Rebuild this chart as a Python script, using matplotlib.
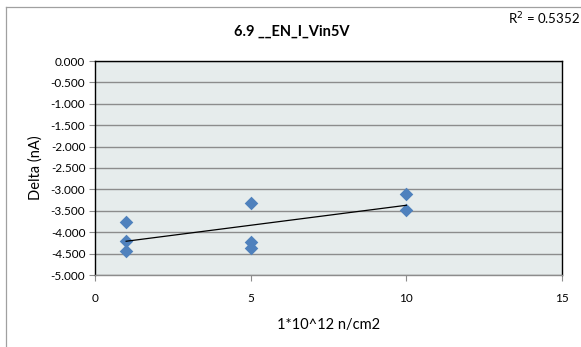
import matplotlib
matplotlib.use("Agg")
import matplotlib.pyplot as plt
import numpy as np
from matplotlib.lines import Line2D

plt.rcParams['font.family'] = ['Lato', 'DejaVu Sans']

x_vals = [1, 1, 1, 5, 5, 5, 10, 10]
y_vals = [-3.76, -4.21, -4.45, -3.31, -4.22, -4.37, -3.10, -3.47]
title = "6.9 __EN_I_Vin5V"
r2_text = "R$^2$ = 0.5352"
x_ticks = [0, 5, 10, 15]
y_ticks = [0.0, -0.5, -1.0, -1.5, -2.0, -2.5, -3.0, -3.5, -4.0, -4.5, -5.0]

fig = plt.figure(figsize=(5.81, 3.47), dpi=100)
fig.patch.set_facecolor('white')
ax = fig.add_axes([95/581, 1-275/347, (562-95)/581, (275-61)/347])
ax.set_facecolor('#E6ECEC')

ax.set_xlim(0, 15)
ax.set_ylim(-5, 0)
ax.set_xticks(x_ticks)
ax.set_yticks(y_ticks)
ax.set_yticklabels([f"{v:.3f}" for v in y_ticks])
ax.yaxis.grid(True, color='#8C8C8C', linewidth=1.0)
ax.set_axisbelow(True)
for s in ['left', 'right', 'top']:
    ax.spines[s].set_color('black')
    ax.spines[s].set_linewidth(1.0)
ax.spines['bottom'].set_color('#8C8C8C')
ax.spines['bottom'].set_linewidth(1.0)
ax.tick_params(axis='both', labelsize=8.5, colors='black', length=4, width=0.8)
ax.tick_params(axis='y', color='#8C8C8C', pad=3)
ax.tick_params(axis='x', color='#8C8C8C', pad=9)

ax.scatter(x_vals, y_vals, marker='D', s=48, color='#4F81BD', zorder=3, linewidths=0)

xa = np.array(x_vals, dtype=float)
ya = np.array(y_vals, dtype=float)
m, b = np.polyfit(xa, ya, 1)
xs = np.array([xa.min(), xa.max()])
ax.plot(xs, m*xs + b, color='black', linewidth=0.9, zorder=4)

ax.set_xlabel("1*10^12 n/cm2", fontsize=10.5, labelpad=10)
ax.set_ylabel("Delta (nA)", fontsize=10.5, labelpad=6)

fig.text(292/581, 1-32/347, title, ha='center', va='center', fontsize=10.5, fontweight='bold')
fig.text(580/581, 1-19/347, r2_text, ha='right', va='center', fontsize=9.5)

# chart frame
fig.add_artist(Line2D([6/581, 6/581], [0, 1-7/347], transform=fig.transFigure, color='#A0A0A0', linewidth=0.9))
fig.add_artist(Line2D([6/581, 1], [1-7/347, 1-7/347], transform=fig.transFigure, color='#A0A0A0', linewidth=0.9))

fig.savefig("out.png", dpi=100)
